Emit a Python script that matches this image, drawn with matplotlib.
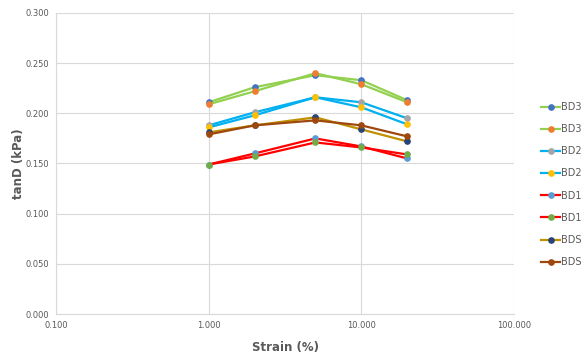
import numpy as np
import matplotlib
matplotlib.use("Agg")
import matplotlib.pyplot as plt
from matplotlib.ticker import FixedLocator, FormatStrFormatter

strain = [1, 2, 5, 10, 20]

labels = ["BD3", "BD3", "BD2", "BD2", "BD1", "BD1", "BDS", "BDS"]
tand = [
    [0.211, 0.226, 0.238, 0.233, 0.213],
    [0.209, 0.222, 0.240, 0.229, 0.211],
    [0.188, 0.201, 0.216, 0.211, 0.195],
    [0.186, 0.198, 0.216, 0.206, 0.189],
    [0.149, 0.160, 0.175, 0.167, 0.155],
    [0.149, 0.157, 0.171, 0.166, 0.159],
    [0.181, 0.188, 0.196, 0.184, 0.172],
    [0.179, 0.188, 0.193, 0.188, 0.177],
]
line_colors = ["#92D050", "#92D050", "#00B0F0", "#00B0F0",
               "#FF0000", "#FF0000", "#BF9000", "#9E480E"]
marker_colors = ["#4472C4", "#ED7D31", "#A5A5A5", "#FFC000",
                 "#5B9BD5", "#70AD47", "#264478", "#9E480E"]

grey = "#595959"
fig = plt.figure(figsize=(5.87, 3.56), dpi=100)
ax = fig.add_axes([56 / 587, 42 / 356, 458 / 587, 301 / 356])

for y, lab, lc, mc in zip(tand, labels, line_colors, marker_colors):
    ax.plot(strain, y, color=lc, lw=1.6, marker="o", ms=3.8,
            mfc=mc, mec=mc, label=lab)

ax.set_xscale("log")
ax.set_xlim(0.1, 100)
ax.set_ylim(0, 0.3)
ax.xaxis.set_major_locator(FixedLocator([0.1, 1, 10, 100]))
ax.xaxis.set_minor_locator(FixedLocator([]))
ax.xaxis.set_major_formatter(FormatStrFormatter("%.3f"))
ax.yaxis.set_major_locator(FixedLocator(np.arange(0, 0.301, 0.05)))
ax.yaxis.set_major_formatter(FormatStrFormatter("%.3f"))
ax.grid(True, color="#D9D9D9", lw=0.8)
ax.set_axisbelow(True)
for s in ["top", "right"]:
    ax.spines[s].set_visible(False)
for s in ["left", "bottom"]:
    ax.spines[s].set_color("#D9D9D9")
ax.tick_params(length=0, labelsize=6, labelcolor=grey, pad=5)

ax.set_xlabel("Strain (%)", fontsize=8.5, fontweight="bold", color=grey, labelpad=8)
ax.set_ylabel("tanD (kPa)", fontsize=8.5, fontweight="bold", color=grey, labelpad=0)

ax.legend(loc="upper left", bbox_to_anchor=(541 / 587, 1 - 102 / 356),
          bbox_transform=fig.transFigure, frameon=False, borderpad=0,
          borderaxespad=0, fontsize=7, labelcolor=grey, handlelength=2.0,
          handletextpad=0.1, labelspacing=1.25)

fig.savefig("out.png", dpi=100)
